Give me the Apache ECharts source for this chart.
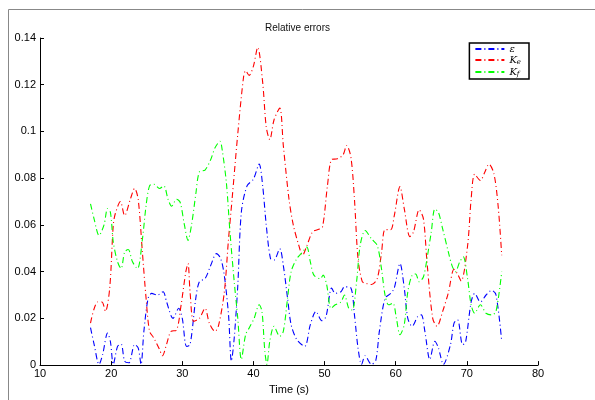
<!DOCTYPE html>
<html>
<head>
<meta charset="utf-8">
<script src="https://cdn.jsdelivr.net/npm/echarts@6/dist/echarts.min.js"></script>
<style>
  html, body { margin: 0; padding: 0; background: #fff; }
  #chart { width: 595px; height: 400px; }
</style>
</head>
<body>
<div id="chart"></div>
<script>
// 相对误差曲线 (epsilon, K_e, K_f)
const xTicks = [10, 20, 30, 40, 50, 60, 70, 80]
const yTicks = [0, 0.02, 0.04, 0.06, 0.08, 0.1, 0.12, 0.14]

const keX = [17.1, 18.1, 18.7, 19.2, 19.8, 20.3, 20.6, 21.3, 21.9, 22.7, 23.3, 23.8, 24.4, 24.9, 25.4, 26.0, 26.8, 27.2, 27.8, 28.4, 29.2, 29.8, 30.5, 30.8, 31.1, 31.6, 32.4, 33.2, 33.8, 34.6, 35.1, 35.9, 36.5, 37.0, 37.8, 38.6, 38.9, 39.4, 40.0, 40.6, 41.3, 41.8, 42.3, 42.9, 43.7, 44.2, 45.0, 45.6, 46.4, 46.9, 47.5, 48.3, 49.1, 49.7, 50.4, 51.0, 51.8, 52.6, 53.1, 53.7, 54.2, 54.7, 55.3, 55.8, 56.6, 57.4, 58.0, 58.5, 59.3, 59.8, 60.6, 61.2, 62.0, 62.5, 63.3, 63.9, 64.4, 65.2, 65.8, 66.6, 67.4, 68.2, 68.7, 69.2, 70.1, 70.6, 71.1, 71.9, 72.5, 73.1, 73.8, 74.4, 74.9]
const keY = [0.018, 0.027, 0.027, 0.023, 0.033, 0.060, 0.065, 0.070, 0.064, 0.071, 0.0756, 0.071, 0.048, 0.029, 0.0145, 0.0116, 0.0067, 0.004, 0.009, 0.0144, 0.015, 0.025, 0.040, 0.0435, 0.031, 0.0187, 0.020, 0.0243, 0.018, 0.0144, 0.017, 0.031, 0.054, 0.071, 0.099, 0.123, 0.126, 0.124, 0.128, 0.136, 0.121, 0.102, 0.0965, 0.105, 0.110, 0.094, 0.071, 0.060, 0.051, 0.047, 0.051, 0.057, 0.058, 0.059, 0.0767, 0.088, 0.0883, 0.090, 0.094, 0.089, 0.071, 0.0456, 0.0357, 0.035, 0.0345, 0.037, 0.048, 0.058, 0.058, 0.064, 0.0764, 0.067, 0.055, 0.057, 0.0665, 0.0625, 0.044, 0.020, 0.0166, 0.023, 0.031, 0.041, 0.039, 0.036, 0.051, 0.071, 0.0817, 0.079, 0.0824, 0.086, 0.082, 0.068, 0.047]

const epsX = [17.1, 17.6, 18.3, 18.8, 19.5, 19.9, 20.3, 20.9, 21.4, 21.9, 22.5, 23.3, 23.8, 24.2, 24.6, 25.2, 25.7, 26.5, 27.3, 27.8, 28.7, 29.5, 30.0, 30.6, 31.1, 31.9, 32.4, 33.2, 34.0, 34.8, 35.4, 35.9, 36.5, 36.9, 37.3, 37.8, 38.3, 39.1, 40.0, 40.8, 41.3, 41.8, 42.4, 42.9, 43.7, 44.2, 44.8, 45.3, 46.1, 47.2, 48.0, 48.8, 49.6, 50.2, 51.0, 51.5, 52.3, 52.8, 53.7, 54.2, 54.7, 55.2, 55.7, 56.6, 57.2, 57.7, 58.5, 59.3, 59.8, 60.6, 61.2, 61.7, 62.3, 63.1, 63.6, 64.1, 64.8, 65.5, 66.0, 66.7, 67.7, 68.2, 68.7, 69.4, 69.8, 70.6, 71.1, 71.9, 72.7, 73.5, 74.1, 74.9]
const epsY = [0.016, 0.009, 0.0003, 0.0045, 0.0137, 0.010, 0.0003, 0.008, 0.009, 0.0017, 0.001, 0.0088, 0.0074, 0.0003, 0.0144, 0.0286, 0.0307, 0.030, 0.0314, 0.027, 0.020, 0.0243, 0.020, 0.008, 0.0088, 0.0286, 0.0357, 0.037, 0.0427, 0.0477, 0.0456, 0.0385, 0.0215, 0.0017, 0.0116, 0.034, 0.0654, 0.0767, 0.0796, 0.086, 0.0767, 0.060, 0.0456, 0.045, 0.0498, 0.0427, 0.0286, 0.0173, 0.0109, 0.008, 0.0173, 0.023, 0.019, 0.0208, 0.033, 0.0307, 0.0314, 0.0335, 0.033, 0.0215, 0.0074, 0.0003, 0.004, 0.0003, 0.002, 0.0144, 0.0286, 0.0307, 0.033, 0.0435, 0.033, 0.020, 0.0166, 0.0208, 0.0215, 0.0144, 0.0024, 0.0102, 0.0074, 0.0003, 0.0088, 0.018, 0.0194, 0.0088, 0.0095, 0.027, 0.0307, 0.027, 0.030, 0.032, 0.030, 0.0102]

const kfX = [17.1, 17.6, 18.3, 19.0, 19.5, 19.9, 20.3, 20.9, 21.4, 21.9, 22.4, 23.0, 23.7, 24.4, 24.9, 25.4, 26.0, 26.8, 27.4, 28.0, 28.5, 29.2, 29.7, 30.3, 30.8, 31.3, 31.9, 32.4, 33.2, 34.0, 34.6, 35.3, 35.6, 36.2, 36.7, 37.3, 37.8, 38.3, 38.9, 39.4, 40.1, 40.8, 41.2, 41.6, 41.9, 42.3, 42.9, 43.7, 44.2, 44.8, 45.3, 46.1, 46.9, 47.5, 48.0, 48.5, 49.4, 49.8, 50.3, 50.9, 51.5, 52.3, 52.8, 53.4, 53.9, 54.5, 55.0, 55.7, 56.6, 57.4, 58.0, 58.5, 59.0, 59.6, 60.1, 60.6, 61.2, 61.7, 62.3, 62.8, 63.3, 63.9, 64.4, 65.0, 65.5, 66.0, 66.6, 67.4, 67.9, 68.4, 69.0, 69.5, 70.1, 70.6, 71.1, 71.9, 72.7, 73.5, 74.1, 74.9]
const kfY = [0.069, 0.0626, 0.0555, 0.060, 0.067, 0.0654, 0.0527, 0.0442, 0.0413, 0.0484, 0.0495, 0.0442, 0.0413, 0.054, 0.068, 0.0767, 0.0774, 0.0756, 0.0767, 0.071, 0.068, 0.071, 0.0697, 0.060, 0.0534, 0.060, 0.0732, 0.0827, 0.0835, 0.088, 0.093, 0.0958, 0.0923, 0.078, 0.057, 0.0357, 0.020, 0.0024, 0.013, 0.0159, 0.020, 0.0258, 0.023, 0.006, 0.0003, 0.0102, 0.0166, 0.0123, 0.0144, 0.0286, 0.040, 0.0456, 0.0484, 0.0505, 0.0442, 0.0385, 0.037, 0.0385, 0.0343, 0.0243, 0.0258, 0.027, 0.030, 0.0243, 0.0236, 0.0357, 0.0512, 0.0576, 0.054, 0.0512, 0.0413, 0.030, 0.0258, 0.0265, 0.020, 0.013, 0.0173, 0.0314, 0.0385, 0.039, 0.0357, 0.0378, 0.0456, 0.057, 0.0668, 0.0654, 0.0583, 0.0484, 0.0427, 0.040, 0.0442, 0.0463, 0.037, 0.0258, 0.0222, 0.0258, 0.0222, 0.0215, 0.023, 0.040]

const zip = (xs, ys) => xs.map((x, i) => [x, ys[i]])
const dashDot = [6, 3, 1, 3]

const chart = echarts.init(document.getElementById('chart'))

const axisText = { color: '#000', fontSize: 11, fontFamily: 'Liberation Sans, Arial, sans-serif' }

const option = {
    animation: false,
    title: {
        text: 'Relative errors',
        left: 'center',
        top: 18,
        textStyle: { fontSize: 10, fontWeight: 'normal', color: '#111', fontFamily: 'Liberation Sans, Arial, sans-serif' }
    },
    graphic: [{
        type: 'rect',
        left: 6, top: 7,
        shape: { width: 620, height: 420 },
        style: { fill: 'none', stroke: '#888', lineWidth: 1 },
        silent: true
    }],
    legend: {
        orient: 'vertical',
        right: 66,
        top: 43,
        width: 62,
        backgroundColor: '#fff',
        borderColor: '#000',
        borderWidth: 1.5,
        padding: [1, 8, 1, 5],
        itemWidth: 29,
        itemHeight: 8,
        itemGap: 1,
        itemStyle: { opacity: 0 },
        data: ['eps', 'Ke', 'Kf'],
        formatter: name => ({ eps: '{i|ε}', Ke: '{i|K}{s|e}', Kf: '{i|K}{s|f}' }[name]),
        textStyle: {
            color: '#000',
            rich: {
                i: { fontSize: 10, fontStyle: 'italic', fontFamily: 'DejaVu Serif, serif' },
                s: { fontSize: 7, fontStyle: 'italic', fontFamily: 'DejaVu Serif, serif', padding: [5, 0, 0, 0] }
            }
        }
    },
    grid: { left: 40, right: 57, top: 38, bottom: 33 },
    xAxis: {
        type: 'value',
        min: xTicks[0],
        max: xTicks[xTicks.length - 1],
        interval: 10,
        name: 'Time (s)',
        nameLocation: 'middle',
        nameGap: 15,
        nameTextStyle: axisText,
        axisLine: { lineStyle: { color: '#000', width: 1 } },
        axisTick: { inside: true, length: 4, lineStyle: { color: '#000' } },
        axisLabel: Object.assign({ margin: 3 }, axisText),
        splitLine: { show: false }
    },
    yAxis: {
        type: 'value',
        min: yTicks[0],
        max: yTicks[yTicks.length - 1],
        interval: 0.02,
        axisLine: { show: true, lineStyle: { color: '#000', width: 1 } },
        axisTick: { show: true, inside: true, length: 4, lineStyle: { color: '#000' } },
        axisLabel: Object.assign({ margin: 4 }, axisText),
        splitLine: { show: false }
    },
    series: [
        { name: 'eps', type: 'line', data: zip(epsX, epsY), color: '#0000ff' },
        { name: 'Ke', type: 'line', data: zip(keX, keY), color: '#ff0000' },
        { name: 'Kf', type: 'line', data: zip(kfX, kfY), color: '#00ff00' }
    ].map(s => Object.assign(s, {
        symbol: 'none',
        smooth: 0.3,
        clip: true,
        lineStyle: { width: 1.1, type: dashDot, color: s.color }
    }))
}

chart.setOption(option)
</script>
</body>
</html>
